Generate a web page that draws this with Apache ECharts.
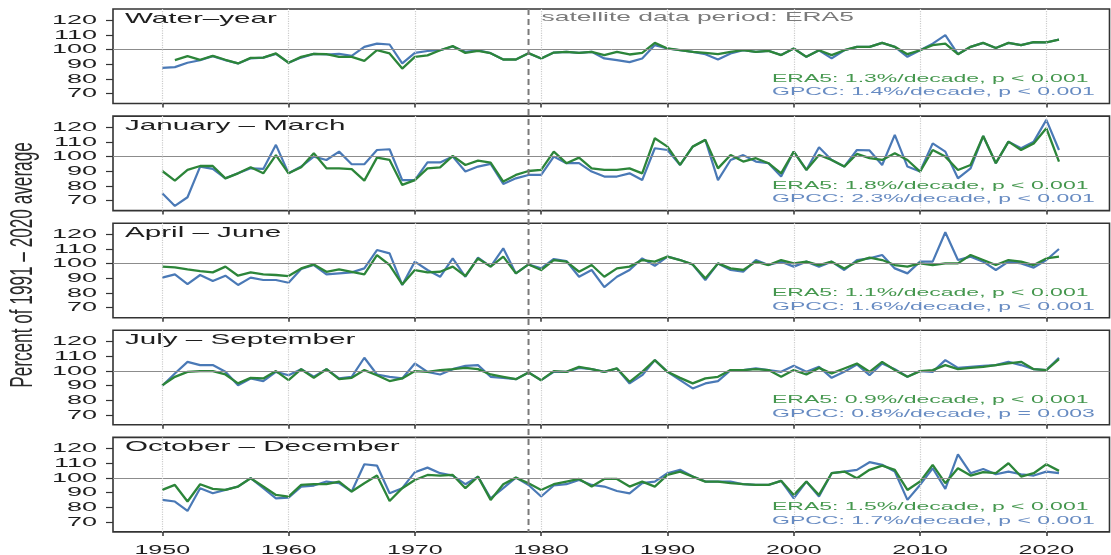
<!DOCTYPE html>
<html>
<head>
<meta charset="utf-8">
<script src="https://cdn.jsdelivr.net/npm/echarts@6/dist/echarts.min.js"></script>
<style>
  html, body { margin: 0; padding: 0; background: #ffffff; }
  #chart { width: 1111px; height: 555px; }
</style>
</head>
<body>
<div id="chart"></div>
<script>
// Seasonal precipitation, percent of the 1991-2020 average, ERA5 vs GPCC
const YEARS = Array.from({ length: 72 }, (_, i) => 1950 + i); // 1950 .. 2021

const PANEL_TITLES = ['Water\u2013year', 'January \u2013 March', 'April \u2013 June',
                      'July \u2013 September', 'October \u2013 December'];

const ERA5_TREND = ['ERA5: 1.3%/decade, p < 0.001', 'ERA5: 1.8%/decade, p < 0.001',
                    'ERA5: 1.1%/decade, p < 0.001', 'ERA5: 0.9%/decade, p < 0.001',
                    'ERA5: 1.5%/decade, p < 0.001'];
const GPCC_TREND = ['GPCC: 1.4%/decade, p < 0.001', 'GPCC: 2.3%/decade, p < 0.001',
                    'GPCC: 1.6%/decade, p < 0.001', 'GPCC: 0.8%/decade, p = 0.003',
                    'GPCC: 1.7%/decade, p < 0.001'];

const SATELLITE_NOTE = 'satellite data period: ERA5';
const SATELLITE_START = 1979;
const Y_TITLE = 'Percent of 1991 \u2013 2020 average';

const X_TICKS = [1950, 1960, 1970, 1980, 1990, 2000, 2010, 2020];
const Y_TICKS = [70, 80, 90, 100, 110, 120];
const REFERENCE_LEVEL = 100;

// Water-year
const ERA5_WY = [null, 92.7, 95.5, 93, 95.7, 93, 90.5, 94.3, 94.5, 97.3,
  91, 95, 97, 96.8, 95, 95, 92.3, 99.5, 97.3, 87,
  95, 96, 99.5, 102.3, 97.7, 99, 97.5, 93.2, 93.2, 97.5,
  93.9, 97.9, 98.4, 97.7, 98.4, 96.2, 98.4, 96.6, 97.7, 104.5,
  100.7, 99.5, 98.4, 97.7, 96.8, 98.4, 99.5, 98.4, 99.1, 96.2,
  100.7, 95, 99.5, 96.2, 99.5, 101.8, 101.8, 104.5, 101.8, 96.8,
  99.5, 103, 104, 96.8, 101.8, 104.5, 101, 104.5, 103, 105,
  104.8, 106.8];
const GPCC_WY = [87.5, 88, 91, 92.7, 95.5, 92.7, 90.5, 94, 94.5, 97,
  91, 94.5, 97, 96.6, 97, 95.7, 101.8, 104, 103.4, 90.5,
  97.7, 99, 99.5, 102, 98.4, 99.5, 97.5, 93.2, 93.2, 97.5,
  93.9, 97.9, 98.4, 97.7, 98.4, 93.9, 92.7, 91.4, 93.9, 103,
  100.7, 99.5, 98.4, 96.8, 93.2, 97.3, 99.5, 98.4, 99.1, 96.2,
  100.7, 95, 99.5, 93.9, 99.5, 101.8, 101.8, 104.5, 101.8, 95,
  99.5, 104, 109.8, 96.8, 101.8, 104.5, 101, 104.5, 103, 105,
  104.8, 106.8];

// January - March
const ERA5_JFM = [90.2, 83.6, 90.9, 93.6, 93.6, 85.2, 88.6, 92.7, 88.6, 101,
  88.6, 92.7, 102.3, 92, 92, 91.4, 83.6, 99.3, 97.7, 80.7,
  84, 92, 92.7, 100.5, 94.3, 97.3, 95.9, 83, 87.5, 90.2,
  90.9, 103.4, 95.5, 99.3, 92, 90.9, 90.9, 92, 88.6, 112.5,
  106.8, 94.3, 106.8, 111.4, 92, 101.1, 96.6, 98.9, 95.5, 88.6,
  103.4, 90.9, 101.1, 97.7, 93.2, 101.8, 98.9, 97.7, 102.3, 97.7,
  89.8, 104.5, 100, 90.9, 94.3, 114, 95.5, 110.2, 104.5, 109,
  119.3, 96.6];
const GPCC_JFM = [75, 66.4, 72.3, 93.2, 91.6, 85.2, 88.6, 92, 91.6, 108,
  88.6, 93.2, 100, 97.7, 103.4, 94.8, 94.8, 104.5, 105, 84,
  84, 96, 96, 100, 89.8, 93.2, 95, 81.4, 85.2, 87.5,
  87.5, 100, 95.5, 95.5, 89.8, 86.4, 86.4, 88.6, 84, 105.7,
  104.5, 94.3, 106.8, 111.4, 84, 97.7, 101, 96.6, 95.5, 86.4,
  103.4, 90.9, 106.4, 97.7, 93.2, 104.5, 104.2, 94.3, 114.8, 93.2,
  89.8, 109, 103.4, 85.2, 92, 114, 95.5, 110.2, 105.7, 110.2,
  125, 104.5];

// April - June
const ERA5_AMJ = [98, 97.5, 96.1, 95, 94.1, 98, 91.8, 94.1, 92.7, 92.3,
  91.6, 96.8, 99.5, 94.5, 96.1, 94.5, 92.7, 105.9, 99.1, 85.9,
  95.7, 94.1, 94.5, 98, 91.6, 103.6, 98, 104.8, 93.4, 99.5,
  95.7, 102.5, 101.4, 94.5, 99.1, 91.1, 96.8, 98, 102.5, 101.4,
  104.8, 102.5, 99.5, 90, 100.2, 96.8, 95.7, 101.4, 99.1, 102.5,
  100.2, 101.4, 99.1, 101.4, 96.8, 101.4, 104.1, 102.5, 99.1, 98,
  100.2, 99.1, 100.2, 100.2, 105.9, 102.5, 99.1, 102.5, 101.4, 99.1,
  103.6, 104.8];
const GPCC_AMJ = [90.5, 92.7, 86.1, 92.3, 88.2, 91.8, 85.5, 90.5, 88.9, 88.9,
  87, 96.4, 99.1, 92.7, 93.4, 94.1, 96.8, 109.3, 107, 85.5,
  101.4, 95.7, 91.1, 103.6, 91.1, 104.1, 98, 110.5, 93.4, 99.5,
  96.8, 103.2, 101.8, 91.1, 95.7, 84, 91.1, 95.7, 103.6, 98.6,
  104.8, 102.5, 99.5, 88.9, 100.2, 95.7, 94.5, 102.5, 99.1, 101.4,
  98, 101.4, 98, 101.4, 95.7, 102.5, 103.6, 105.9, 96.8, 93.4,
  101.4, 101.4, 121.4, 102.5, 104.8, 101.4, 95.7, 101.4, 100.2, 97.3,
  102.5, 110];

// July - September
const ERA5_JAS = [90.2, 95.9, 99.3, 99.8, 99.8, 97.5, 91.4, 95.2, 94.8, 99.8,
  93.6, 101.1, 95.2, 101.1, 94.3, 95.2, 100.5, 97, 93, 94.8,
  99.8, 99.3, 100.5, 101.1, 102, 101.1, 97.5, 95.9, 94.3, 98.9,
  93.6, 99.8, 99.3, 102.7, 101.1, 99.3, 101.6, 92.5, 99.3, 107.3,
  99.3, 95.2, 91.4, 94.8, 95.9, 100.5, 100.5, 101.1, 100.5, 95.9,
  100.5, 97.5, 102, 98.2, 101.6, 105, 99.3, 106.1, 100.5, 95.9,
  99.8, 100.5, 103.9, 101.1, 102, 102.7, 103.9, 105, 106.1, 101.1,
  100.5, 108];
const GPCC_JAS = [89.8, 98.2, 106.1, 103.9, 103.9, 99.3, 90.2, 94.8, 93, 99.3,
  97, 101.1, 95.9, 101.1, 94.8, 95.9, 108.9, 97.5, 95.9, 94.8,
  105, 99.3, 97.5, 101.1, 103.4, 103.9, 95.9, 95.2, 94.3, 98.9,
  93.6, 99.3, 99.3, 102, 101.1, 99.3, 101.6, 91.4, 97, 107.3,
  99.3, 93.6, 88, 91.4, 93, 100.5, 100.5, 101.6, 100.5, 99.3,
  103.4, 99.3, 102.7, 95.2, 99.3, 104.3, 97, 105, 101.1, 95.9,
  99.8, 99.3, 107.3, 102, 102.7, 103.4, 103.9, 106.1, 103.9, 101.1,
  100.5, 108.9];

// October - December
const ERA5_OND = [91.8, 95.2, 83.9, 95.7, 92.5, 91.8, 94.1, 99.8, 94.1, 88.4,
  87.3, 95.2, 95.7, 95.7, 97.5, 90.7, 96.4, 101.6, 84.3, 93,
  98.6, 102, 101.6, 102, 93, 100.9, 85, 95.7, 100.2, 96.4,
  91.8, 95.7, 97.5, 99.3, 94.1, 99.3, 99.3, 94.1, 97.5, 94.1,
  102, 104.3, 100.9, 97.5, 97.5, 96.4, 95.7, 95.2, 95.2, 98,
  88.4, 97.5, 88.4, 103.2, 104.3, 99.8, 105.5, 108.4, 105.5, 91.8,
  97.5, 108.9, 96.4, 106.6, 101.6, 103.9, 103.2, 110, 100.9, 103.2,
  109.3, 104.8];
const GPCC_OND = [85, 83.9, 77.5, 93, 89.5, 91.8, 94.1, 99.8, 93, 86.1,
  86.6, 94.1, 94.8, 97.5, 96.4, 90.7, 109.3, 108.4, 89.5, 93,
  103.9, 107, 103.2, 101.6, 95.7, 100.9, 86.1, 93, 100.2, 95.2,
  87.3, 94.8, 95.7, 98.6, 95.2, 94.1, 91.1, 89.5, 96.4, 97.5,
  103.2, 105.5, 100.9, 97.5, 97.5, 97.5, 95.7, 95.2, 95.2, 98,
  86.1, 97.5, 87.3, 103.2, 104.3, 105.5, 110.7, 108.9, 104.3, 85,
  95.2, 106.6, 92.5, 116.1, 103.2, 106.1, 102.5, 104.3, 102.5, 101.6,
  104.3, 103.2];

const ERA5_PANELS = [ERA5_WY, ERA5_JFM, ERA5_AMJ, ERA5_JAS, ERA5_OND];
const GPCC_PANELS = [GPCC_WY, GPCC_JFM, GPCC_AMJ, GPCC_JAS, GPCC_OND];

// ---- styling ----
const FONT = '"Liberation Sans", Arial, Helvetica, sans-serif';
const STRETCH = 2.0;            // horizontal stretch of all lettering
const GREEN = '#2c8539';
const BLUE = '#4a79b6';
const GREEN_TEXT = '#45974e';
const BLUE_TEXT = '#678bc2';
const INK = '#1e1e1e';

const PANEL_TOP0 = 9, PANEL_STEP = 107.1, PANEL_H = 94.5;
const X_MIN = 1946.1, X_MAX = 2025;
const Y_MIN = 63.2, Y_MAX = 127.6;

const chart = echarts.init(document.getElementById('chart'), null, { renderer: 'canvas' });

const grids = [], xAxes = [], yAxes = [], series = [];
PANEL_TITLES.forEach((title, k) => {
  grids.push({
    left: 113, right: 1.5, top: PANEL_TOP0 + PANEL_STEP * k, height: PANEL_H,
    show: true, borderColor: '#333333', borderWidth: 1.6, backgroundColor: 'transparent'
  });
  xAxes.push({
    type: 'value', gridIndex: k, min: X_MIN, max: X_MAX,
    axisLine: { show: false },
    axisTick: { show: true, customValues: X_TICKS, length: 4, lineStyle: { color: '#333', width: 1.5 } },
    axisLabel: { show: false },
    splitLine: { show: false }
  });
  yAxes.push({
    type: 'value', gridIndex: k, min: Y_MIN, max: Y_MAX,
    axisLine: { show: false },
    axisTick: { show: true, customValues: Y_TICKS, length: 7, lineStyle: { color: '#333', width: 1.2 } },
    axisLabel: { show: false },
    splitLine: { show: false }
  });
  series.push({
    name: 'GPCC', type: 'line', xAxisIndex: k, yAxisIndex: k, z: 2,
    data: YEARS.map((yr, i) => [yr, GPCC_PANELS[k][i]]),
    showSymbol: false, symbol: 'none', silent: true,
    lineStyle: { color: BLUE, width: 2.2 },
    markLine: {
      silent: true, symbol: ['none', 'none'], label: { show: false }, animation: false,
      data: [{ yAxis: REFERENCE_LEVEL, lineStyle: { color: '#8c8c8c', width: 1, type: 'solid' } }]
        .concat(X_TICKS.map(x => ({ xAxis: x, lineStyle: { color: '#cdcdcd', width: 1.2, type: 'dotted' } })))
    }
  });
  series.push({
    name: 'ERA5', type: 'line', xAxisIndex: k, yAxisIndex: k, z: 3,
    data: YEARS.map((yr, i) => [yr, ERA5_PANELS[k][i]]),
    showSymbol: false, symbol: 'none', silent: true,
    lineStyle: { color: GREEN, width: 2.3 }
  });
});

chart.setOption({
  animation: false,
  backgroundColor: '#ffffff',
  grid: grids, xAxis: xAxes, yAxis: yAxes, series: series
});

// ---- lettering, stretched horizontally, placed through the axes' scales ----
function label(text, x, y, size, color, align, extra) {
  return Object.assign({
    type: 'text', x: x, y: y, scaleX: STRETCH, silent: true, z: 10,
    style: {
      text: text, font: size + 'px ' + FONT, fill: color,
      textAlign: align, align: align, textVerticalAlign: 'middle', verticalAlign: 'middle'
    }
  }, extra || {});
}

const graphics = [];
const px = (k, x, y) => chart.convertToPixel({ gridIndex: k }, [x, y]);

PANEL_TITLES.forEach((title, k) => {
  const top = PANEL_TOP0 + PANEL_STEP * k;
  const bottom = top + PANEL_H;
  graphics.push(label(title, 125, top + 9.5, 14.8, INK, 'left'));
  graphics.push(label(ERA5_TREND[k], 772, bottom - 25, 11.5, GREEN_TEXT, 'left'));
  graphics.push(label(GPCC_TREND[k], 772, bottom - 11.3, 11.5, BLUE_TEXT, 'left'));
  Y_TICKS.forEach(v => {
    graphics.push(label(String(v), 97, px(k, X_MIN, v)[1], 13.5, INK, 'right'));
  });
});

const lastBottom = PANEL_TOP0 + PANEL_STEP * 4 + PANEL_H;
X_TICKS.forEach(yr => {
  graphics.push(label(String(yr), px(4, yr, Y_MIN)[0], lastBottom + 19, 12.5, INK, 'center'));
});

// start of the satellite era, across all panels
const xSat = px(0, SATELLITE_START, REFERENCE_LEVEL)[0];
graphics.push({
  type: 'line', silent: true, z: 4,
  shape: { x1: xSat, y1: PANEL_TOP0, x2: xSat, y2: lastBottom },
  style: { stroke: '#7a7a7a', lineWidth: 2, lineDash: [6, 4] }
});
graphics.push(label(SATELLITE_NOTE, xSat + 13, 17.5, 13.2, '#7a7a7a', 'left'));

// shared y-axis title
graphics.push({
  type: 'text', x: 23, y: 265, rotation: Math.PI / 2, scaleY: 1.8, silent: true, z: 10,
  style: {
    text: Y_TITLE, font: '17.2px ' + FONT, fill: '#2a2a2a',
    textAlign: 'center', align: 'center', textVerticalAlign: 'middle', verticalAlign: 'middle'
  }
});

chart.setOption({ graphic: graphics });
</script>
</body>
</html>
